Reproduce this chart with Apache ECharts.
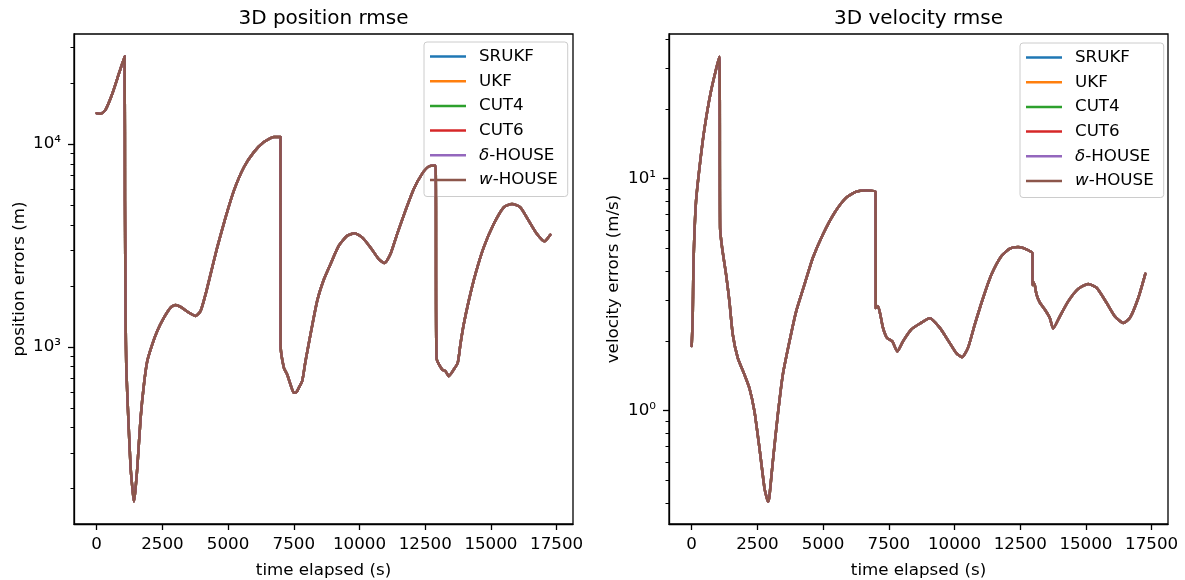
<!DOCTYPE html>
<html>
<head>
<meta charset="utf-8">
<script src="https://cdn.jsdelivr.net/npm/echarts@6/dist/echarts.min.js"></script>
<style>
html,body{margin:0;padding:0;background:#fff;}
#chart{width:1185px;height:580px;}
</style>
</head>
<body>
<div id="chart"></div>
<script>
// ---------- data ----------
const seriesNames = ['SRUKF', 'UKF', 'CUT4', 'CUT6', 'δ-HOUSE', 'w-HOUSE'];
const seriesColors = ['#1f77b4', '#ff7f0e', '#2ca02c', '#d62728', '#9467bd', '#8c564b'];
const panelTitles = ['3D position rmse', '3D velocity rmse'];
const yAxisNames = ['position errors (m)', 'velocity errors (m/s)'];
const xAxisName = 'time elapsed (s)';
const xTickValues = [0, 2500, 5000, 7500, 10000, 12500, 15000, 17500];
const posMajorTicks = [1000, 10000];
const posMinorTicks = [200, 300, 400, 500, 600, 700, 800, 900, 2000, 3000, 4000, 5000, 6000, 7000, 8000, 9000, 20000, 30000];
const velMajorTicks = [1, 10];
const velMinorTicks = [0.4, 0.5, 0.6, 0.7, 0.8, 0.9, 2, 3, 4, 5, 6, 7, 8, 9, 20, 30, 40];

const posTime = [0, 151, 341, 594, 848, 1063, 1076, 1101, 1127, 1203, 1292, 1370, 1418, 1470, 1545, 1672, 1798, 1925, 2115, 2305, 2559, 2813, 3003, 3193, 3510, 3763, 3954, 4144, 4334, 4587, 4904, 5221, 5601, 5981, 6361, 6741, 6995, 7000, 7122, 7248, 7375, 7502, 7600, 7692, 7819, 7946, 8136, 8390, 8643, 8896, 9213, 9530, 9809, 10100, 10417, 10734, 10949, 11178, 11431, 11748, 12065, 12381, 12635, 12889, 12930, 13142, 13269, 13395, 13586, 13738, 13839, 13966, 14156, 14410, 14726, 15106, 15487, 15803, 16120, 16437, 16754, 17033, 17260];
const posErr = [14200, 14100, 14800, 17700, 22300, 27100, 5260, 1400, 790, 447, 253, 195, 173, 195, 253, 447, 653, 852, 1030, 1199, 1395, 1564, 1612, 1576, 1477, 1422, 1505, 1820, 2285, 3096, 4355, 5900, 7690, 9130, 10230, 10830, 10830, 1010, 790, 732, 653, 594, 598, 629, 679, 852, 1154, 1687, 2150, 2560, 3155, 3535, 3630, 3470, 3096, 2710, 2590, 2870, 3600, 4700, 6010, 7130, 7750, 7840, 885, 774, 760, 718, 774, 836, 1030, 1293, 1687, 2285, 3096, 4036, 4881, 5070, 4881, 4194, 3602, 3315, 3575];

const velTime = [0, 39, 65, 103, 166, 268, 420, 573, 738, 928, 1055, 1081, 1157, 1309, 1436, 1563, 1753, 2008, 2198, 2389, 2579, 2770, 2860, 2909, 2960, 3087, 3277, 3468, 3722, 3976, 4293, 4611, 4992, 5436, 5881, 6262, 6643, 6998, 7005, 7087, 7176, 7277, 7430, 7633, 7824, 8039, 8357, 8674, 9055, 9436, 9817, 10071, 10287, 10516, 10770, 11087, 11405, 11786, 12103, 12420, 12738, 12966, 12970, 13000, 13060, 13119, 13246, 13436, 13627, 13754, 14008, 14325, 14706, 15087, 15404, 15785, 16103, 16420, 16674, 16991, 17260];
const velErr = [1.90, 2.51, 4.13, 5.75, 8.01, 10.44, 14.53, 18.95, 23.9, 29.6, 33.5, 6.14, 5.04, 3.86, 2.96, 2.13, 1.69, 1.43, 1.25, 0.993, 0.69, 0.464, 0.42, 0.406, 0.43, 0.604, 0.961, 1.43, 1.99, 2.68, 3.50, 4.56, 5.75, 7.13, 8.28, 8.79, 8.90, 8.76, 2.77, 2.82, 2.60, 2.28, 2.06, 1.99, 1.80, 1.99, 2.24, 2.37, 2.50, 2.28, 1.96, 1.77, 1.70, 1.87, 2.35, 3.06, 3.86, 4.64, 4.99, 5.07, 4.96, 4.76, 3.48, 3.58, 3.45, 3.17, 2.92, 2.73, 2.51, 2.26, 2.55, 2.96, 3.35, 3.52, 3.39, 2.92, 2.55, 2.39, 2.51, 3.06, 3.89];

// ---------- chart ----------
const FONT = 'DejaVu Sans';
const LABEL_SIZE = 16.7;
const sup = {'0': '⁰', '1': '¹', '2': '²', '3': '³', '4': '⁴', '-': '⁻'};
function logLabel(v) {
  const e = String(Math.round(Math.log10(v)));
  return '10' + e.split('').map(c => sup[c]).join('');
}

const grids = [
  {left: 74, top: 34, width: 499, height: 490},
  {left: 669, top: 34, width: 499, height: 490}
];
const yRanges = [[134, 34900], [0.325, 42]];
const majors = [posMajorTicks, velMajorTicks];
const minors = [posMinorTicks, velMinorTicks];
const yNameGaps = [46, 47];
const panelData = [
  posTime.map((t, i) => [t, posErr[i]]),
  velTime.map((t, i) => [t, velErr[i]])
];

const xAxes = [], yAxes = [], series = [], titles = [], legends = [];
const legendPos = [{left: 424, top: 42}, {left: 1020, top: 43}];

for (let g = 0; g < 2; g++) {
  xAxes.push({
    type: 'value', gridIndex: g, min: -863, max: 18123, position: 'bottom',
    name: xAxisName, nameLocation: 'middle', nameGap: 38,
    nameTextStyle: {fontFamily: FONT, fontSize: LABEL_SIZE, color: '#000'},
    axisLine: {show: true, onZero: false, lineStyle: {color: '#000', width: 1.3}},
    axisTick: {show: true, length: 6, lineStyle: {color: '#000', width: 1.3}, customValues: xTickValues},
    axisLabel: {fontFamily: FONT, fontSize: LABEL_SIZE, color: '#000', margin: 12, customValues: xTickValues,
      formatter: v => String(v)},
    splitLine: {show: false}
  });
  yAxes.push({
    type: 'log', logBase: 10, gridIndex: g, min: yRanges[g][0], max: yRanges[g][1], position: 'left',
    name: yAxisNames[g], nameLocation: 'middle', nameGap: yNameGaps[g],
    nameTextStyle: {fontFamily: FONT, fontSize: LABEL_SIZE, color: '#000'},
    axisLine: {show: true, onZero: false, lineStyle: {color: '#000', width: 1.3}},
    axisTick: {show: true, length: 6, lineStyle: {color: '#000', width: 1.3}, customValues: majors[g]},
    axisLabel: {fontFamily: FONT, fontSize: LABEL_SIZE, color: '#000', margin: 13, customValues: majors[g], formatter: logLabel},
    splitLine: {show: false}
  });
  yAxes.push({
    type: 'log', logBase: 10, gridIndex: g, min: yRanges[g][0], max: yRanges[g][1], position: 'left', offset: 0,
    axisLine: {show: false, onZero: false},
    axisTick: {show: true, length: 3.5, lineStyle: {color: '#000', width: 1}, customValues: minors[g]},
    axisLabel: {show: false},
    splitLine: {show: false}
  });
  titles.push({
    text: panelTitles[g], left: grids[g].left + grids[g].width / 2, top: 9, textAlign: 'center',
    padding: 0,
    textStyle: {fontFamily: FONT, fontSize: 20, fontWeight: 'normal', color: '#000'}
  });
  for (let s = 0; s < seriesNames.length; s++) {
    series.push({
      type: 'line', name: seriesNames[s], xAxisIndex: g, yAxisIndex: g * 2,
      data: panelData[g], showSymbol: false, symbol: 'none', smooth: 0.2,
      lineStyle: {color: seriesColors[s], width: 2.5, join: 'round', cap: 'round'},
      itemStyle: {color: seriesColors[s]},
      z: 2 + s, animation: false, silent: true
    });
  }
  legends.push({
    orient: 'vertical', left: legendPos[g].left, top: legendPos[g].top,
    data: seriesNames.map(n => ({name: n, icon: 'rect'})),
    itemWidth: 36, itemHeight: 2.5, itemGap: 7.7,
    padding: [6, 10, 8, 6],
    backgroundColor: 'rgba(255,255,255,0.8)', borderColor: '#cccccc', borderWidth: 1, borderRadius: 3,
    selectedMode: false,
    formatter: function (name) {
      if (name === 'δ-HOUSE') return '{i|δ}{n|-HOUSE}';
      if (name === 'w-HOUSE') return '{i|w}{n|-HOUSE}';
      return '{n|' + name + '}';
    },
    textStyle: {
      fontFamily: FONT, fontSize: LABEL_SIZE, color: '#000', lineHeight: 16, padding: [0, 0, 0, 8],
      rich: {
        n: {fontFamily: FONT, fontSize: LABEL_SIZE, color: '#000', lineHeight: 16},
        i: {fontFamily: FONT, fontSize: LABEL_SIZE, color: '#000', lineHeight: 16, fontStyle: 'italic'}
      }
    }
  });
}

const chart = echarts.init(document.getElementById('chart'), null, {renderer: 'canvas'});
chart.setOption({
  backgroundColor: '#fff',
  animation: false,
  title: titles,
  legend: legends,
  grid: grids.map(g => Object.assign({show: true, borderColor: '#000', borderWidth: 1.3, backgroundColor: 'transparent',
    containLabel: false, outerBoundsMode: 'none'}, g)),
  xAxis: xAxes,
  yAxis: yAxes,
  series: series
});
</script>
</body>
</html>
